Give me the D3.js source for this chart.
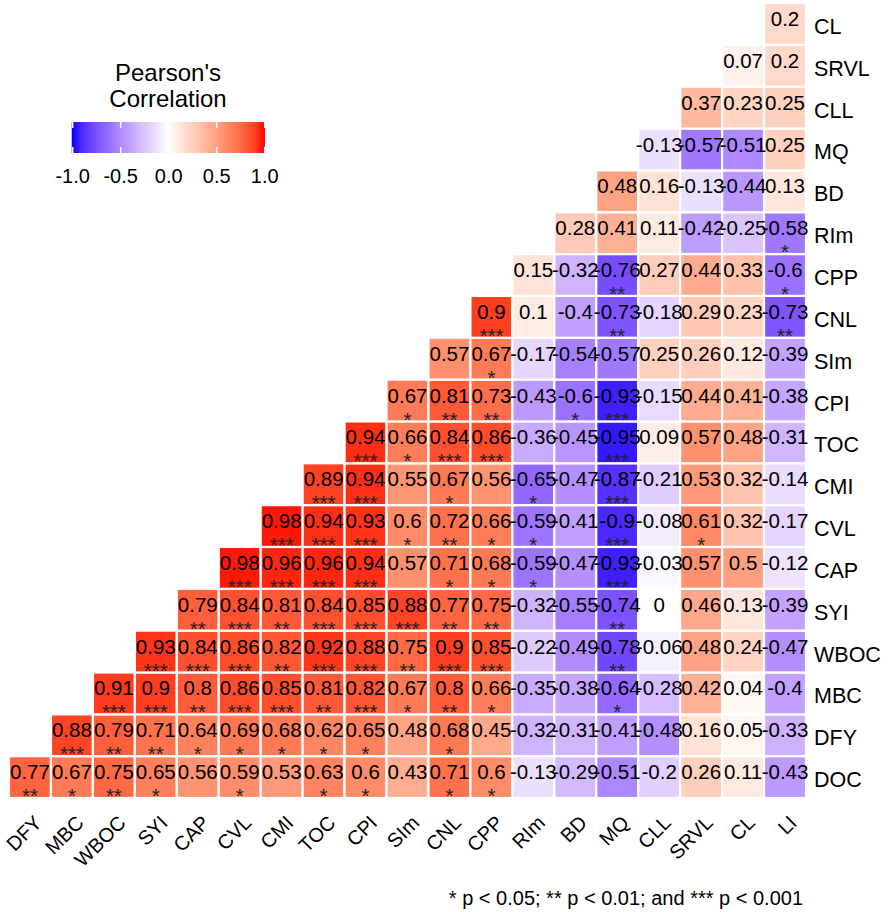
<!DOCTYPE html>
<html>
<head>
<meta charset="utf-8">
<script src="https://cdn.jsdelivr.net/npm/d3@7"></script>
<style>
  body { margin: 0; background: #fff; }
  svg text { font-family: "Liberation Sans", Arial, sans-serif; }
</style>
</head>
<body>
<div id="chart"></div>
<script>
// variable order: first one is the bottom row, last one is the right column
const variables = ["DOC", "DFY", "MBC", "WBOC", "SYI", "CAP", "CVL", "CMI", "TOC", "CPI",
    "SIm", "CNL", "CPP", "RIm", "BD", "MQ", "CLL", "SRVL", "CL", "LI"];

// correlations of each row variable with every variable after it
const corrRows = [
    [0.77, 0.67, 0.75, 0.65, 0.56, 0.59, 0.53, 0.63, 0.6, 0.43, 0.71, 0.6, -0.13, -0.29, -0.51, -0.2, 0.26, 0.11, -0.43], // DOC
    [0.88, 0.79, 0.71, 0.64, 0.69, 0.68, 0.62, 0.65, 0.48, 0.68, 0.45, -0.32, -0.31, -0.41, -0.48, 0.16, 0.05, -0.33], // DFY
    [0.91, 0.9, 0.8, 0.86, 0.85, 0.81, 0.82, 0.67, 0.8, 0.66, -0.35, -0.38, -0.64, -0.28, 0.42, 0.04, -0.4], // MBC
    [0.93, 0.84, 0.86, 0.82, 0.92, 0.88, 0.75, 0.9, 0.85, -0.22, -0.49, -0.78, -0.06, 0.48, 0.24, -0.47], // WBOC
    [0.79, 0.84, 0.81, 0.84, 0.85, 0.88, 0.77, 0.75, -0.32, -0.55, -0.74, 0, 0.46, 0.13, -0.39], // SYI
    [0.98, 0.96, 0.96, 0.94, 0.57, 0.71, 0.68, -0.59, -0.47, -0.93, -0.03, 0.57, 0.5, -0.12], // CAP
    [0.98, 0.94, 0.93, 0.6, 0.72, 0.66, -0.59, -0.41, -0.9, -0.08, 0.61, 0.32, -0.17], // CVL
    [0.89, 0.94, 0.55, 0.67, 0.56, -0.65, -0.47, -0.87, -0.21, 0.53, 0.32, -0.14], // CMI
    [0.94, 0.66, 0.84, 0.86, -0.36, -0.45, -0.95, 0.09, 0.57, 0.48, -0.31], // TOC
    [0.67, 0.81, 0.73, -0.43, -0.6, -0.93, -0.15, 0.44, 0.41, -0.38], // CPI
    [0.57, 0.67, -0.17, -0.54, -0.57, 0.25, 0.26, 0.12, -0.39], // SIm
    [0.9, 0.1, -0.4, -0.73, -0.18, 0.29, 0.23, -0.73], // CNL
    [0.15, -0.32, -0.76, 0.27, 0.44, 0.33, -0.6], // CPP
    [0.28, 0.41, 0.11, -0.42, -0.25, -0.58], // RIm
    [0.48, 0.16, -0.13, -0.44, 0.13], // BD
    [-0.13, -0.57, -0.51, 0.25], // MQ
    [0.37, 0.23, 0.25], // CLL
    [0.07, 0.2], // SRVL
    [0.2] // CL
];

// number of significance stars for the same cells
const starRows = [
    [2, 1, 2, 1, 0, 1, 0, 1, 1, 0, 1, 1, 0, 0, 0, 0, 0, 0, 0],
    [3, 2, 2, 1, 1, 1, 1, 1, 0, 1, 0, 0, 0, 0, 0, 0, 0, 0],
    [3, 3, 2, 3, 3, 2, 3, 1, 2, 1, 0, 0, 1, 0, 0, 0, 0],
    [3, 3, 3, 2, 3, 3, 2, 3, 3, 0, 0, 2, 0, 0, 0, 0],
    [2, 3, 2, 3, 3, 3, 2, 2, 0, 0, 2, 0, 0, 0, 0],
    [3, 3, 3, 3, 0, 1, 1, 1, 0, 3, 0, 0, 0, 0],
    [3, 3, 3, 1, 2, 1, 1, 0, 3, 0, 1, 0, 0],
    [3, 3, 0, 1, 0, 1, 0, 3, 0, 0, 0, 0],
    [3, 1, 3, 3, 0, 0, 3, 0, 0, 0, 0],
    [1, 2, 2, 0, 1, 3, 0, 0, 0, 0],
    [0, 1, 0, 0, 0, 0, 0, 0, 0],
    [3, 0, 0, 2, 0, 0, 0, 2],
    [0, 0, 2, 0, 0, 0, 1],
    [0, 0, 0, 0, 0, 1],
    [0, 0, 0, 0, 0],
    [0, 0, 0, 0],
    [0, 0, 0],
    [0, 0],
    [0]
];

const legendTitle = ["Pearson's", "Correlation"];
const legendTicks = [-1, -0.5, 0, 0.5, 1];
const footnote = "* p < 0.05; ** p < 0.01; and *** p < 0.001";

const width = 888, height = 912;

const svg = d3.select("#chart").append("svg")
    .attr("width", width)
    .attr("height", height);

// flatten the triangle into cells
const cells = [];
corrRows.forEach((row, i) => {
    row.forEach((v, j) => {
        cells.push({
            row: variables[i],
            col: variables[i + 1 + j],
            value: v,
            stars: starRows[i][j]
        });
    });
});

const x = d3.scaleBand()
    .domain(variables.slice(1))
    .range([9, 806]);

const y = d3.scaleBand()
    .domain(variables.slice(0, -1).reverse())
    .range([3, 798]);

const color = d3.scaleLinear()
    .domain([-1, 0, 1])
    .range(["#0000ff", "#ffffff", "#ff0000"])
    .interpolate(d3.interpolateLab);

// tiles
svg.append("g").selectAll("rect")
    .data(cells)
    .join("rect")
    .attr("x", d => x(d.col))
    .attr("y", d => y(d.row))
    .attr("width", x.bandwidth())
    .attr("height", y.bandwidth())
    .attr("fill", d => color(d.value))
    .attr("stroke", "#fff")
    .attr("stroke-width", 2.2);

// values
const labels = svg.append("g").attr("font-size", 20.5).attr("text-anchor", "middle");
labels.selectAll("text.val")
    .data(cells)
    .join("text")
    .attr("class", "val")
    .attr("x", d => x(d.col) + x.bandwidth() / 2)
    .attr("y", d => y(d.row) + 23)
    .attr("fill", "#000")
    .text(d => String(d.value));

labels.selectAll("text.star")
    .data(cells.filter(d => d.stars > 0))
    .join("text")
    .attr("class", "star")
    .attr("x", d => x(d.col) + x.bandwidth() / 2)
    .attr("y", d => y(d.row) + 47)
    .attr("fill", "#222")
    .text(d => "*".repeat(d.stars));

// right axis labels
svg.append("g").selectAll("text")
    .data(y.domain())
    .join("text")
    .attr("x", 814)
    .attr("y", d => y(d) + y.bandwidth() / 2 + 10)
    .attr("font-size", 21.5)
    .attr("fill", "#000")
    .text(d => d);

// bottom axis labels, 45 degrees
svg.append("g").selectAll("text")
    .data(x.domain())
    .join("text")
    .attr("transform", d => `translate(${x(d) + x.bandwidth() / 2 + 13},824) rotate(-45)`)
    .attr("text-anchor", "end")
    .attr("font-size", 20)
    .attr("fill", "#000")
    .text(d => d);

// legend
const lx = d3.scaleLinear().domain([-1, 1]).range([72.7, 264.7]);
const legend = svg.append("g");

legend.selectAll("text.title")
    .data(legendTitle)
    .join("text")
    .attr("class", "title")
    .attr("x", 168)
    .attr("y", (d, i) => 81 + i * 26)
    .attr("text-anchor", "middle")
    .attr("font-size", 24)
    .text(d => d);

const grad = svg.append("defs").append("linearGradient")
    .attr("id", "corrGrad");
grad.selectAll("stop")
    .data(d3.range(0, 1.0001, 0.05))
    .join("stop")
    .attr("offset", d => d)
    .attr("stop-color", d => color(-1 + 2 * d));

legend.append("rect")
    .attr("x", 71.7)
    .attr("y", 122)
    .attr("width", 265 - 71.7)
    .attr("height", 31)
    .attr("fill", "url(#corrGrad)");

legend.selectAll("line.tt")
    .data(legendTicks)
    .join("line")
    .attr("class", "tt")
    .attr("x1", d => lx(d)).attr("x2", d => lx(d))
    .attr("y1", 122).attr("y2", 128)
    .attr("stroke", "#fff").attr("stroke-width", 1.5);

legend.selectAll("line.tb")
    .data(legendTicks)
    .join("line")
    .attr("class", "tb")
    .attr("x1", d => lx(d)).attr("x2", d => lx(d))
    .attr("y1", 147).attr("y2", 153)
    .attr("stroke", "#fff").attr("stroke-width", 1.5);

legend.selectAll("text.tick")
    .data(legendTicks)
    .join("text")
    .attr("class", "tick")
    .attr("x", d => lx(d))
    .attr("y", 183)
    .attr("text-anchor", "middle")
    .attr("font-size", 20)
    .text(d => d3.format(".1f")(d).replace("−", "-"));

// significance note
svg.append("text")
    .attr("x", 803)
    .attr("y", 905)
    .attr("text-anchor", "end")
    .attr("font-size", 20)
    .text(footnote);
</script>
</body>
</html>
